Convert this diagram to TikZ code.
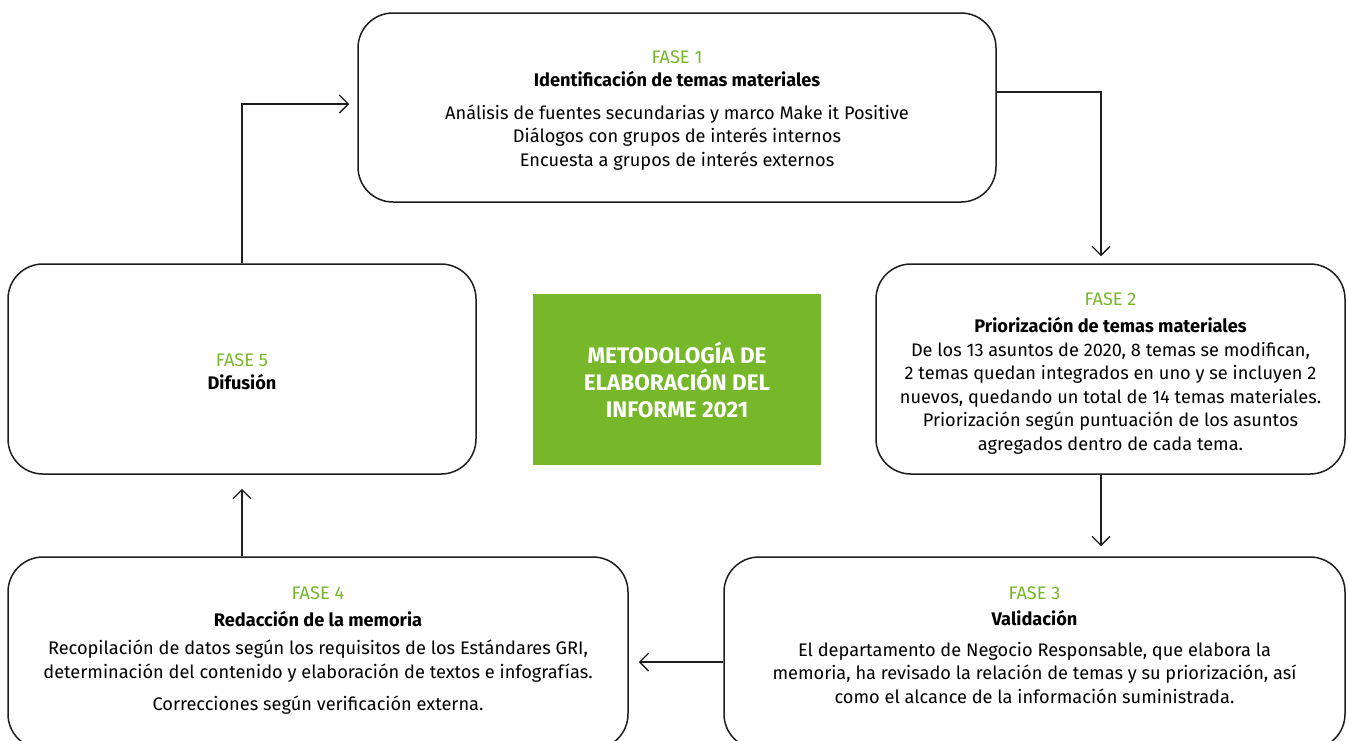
\documentclass[tikz,border=0pt]{standalone}
\usepackage{fontspec}
\setmainfont{Fira Sans}
\usetikzlibrary{arrows.meta,calc}
\definecolor{fgreen}{RGB}{118,184,42}
\definecolor{edge}{RGB}{30,30,30}
\begin{document}
\begin{tikzpicture}[x=1pt,y=-1pt,
  phase/.style={draw=edge,line width=1.5pt,rounded corners=35pt,inner sep=0pt},
  txt/.style={align=center,inner sep=0pt,font=\fontsize{18.2}{23.5}\selectfont,text=black},
  conn/.style={draw=edge,line width=1.3pt,-{Straight Barb[length=9pt,width=18pt,line width=1.3pt]}},
  title/.style={fill=fgreen,inner sep=0pt,align=center,text=white,
    font=\fontsize{22.5}{27}\selectfont\bfseries}]
\useasboundingbox (0,0) rectangle (1348,740);
\clip (0,0) rectangle (1348,740);
\fill[white] (0,0) rectangle (1348,740);

\node[phase,minimum width=638pt,minimum height=189pt] (b1) at (677,107.5) {};
\node[txt] (t1) at (677,110.5)
  {\textcolor{fgreen}{FASE 1}\\
   \textbf{Identificación de temas materiales}\\[9pt]
   Análisis de fuentes secundarias y marco Make it Positive\\
   Diálogos con grupos de interés internos\\
   Encuesta a grupos de interés externos};

\node[phase,minimum width=469pt,minimum height=210pt] (b2) at (1110.5,369) {};
\node[txt] (t2) at (1110.5,373.5)
  {\textcolor{fgreen}{FASE 2}\\[4pt]
   \textbf{Priorización de temas materiales}\\
   De los 13 asuntos de 2020, 8 temas se modifican,\\
   2 temas quedan integrados en uno y se incluyen 2\\
   nuevos, quedando un total de 14 temas materiales.\\
   Priorización según puntuación de los asuntos\\
   agregados dentro de cada tema.};

\node[phase,minimum width=468pt,minimum height=210pt] (b5) at (242,369) {};
\node[txt] (t5) at (242,372)
  {\textcolor{fgreen}{FASE 5}\\
   \textbf{Difusión}};

\node[phase,minimum width=620pt,minimum height=192pt] (b4) at (318,653) {};
\node[txt] (t4) at (318,651)
  {\textcolor{fgreen}{FASE 4}\\[3pt]
   \textbf{Redacción de la memoria}\\[5pt]
   Recopilación de datos según los requisitos de los Estándares GRI,\\
   determinación del contenido y elaboración de textos e infografías.\\[9pt]
   Correcciones según verificación externa.};

\node[phase,minimum width=621pt,minimum height=192pt] (b3) at (1034.5,653) {};
\node[txt] (t3) at (1034.5,645)
  {\textcolor{fgreen}{FASE 3}\\[3pt]
   \textbf{Validación}\\[7pt]
   El departamento de Negocio Responsable, que elabora la\\
   memoria, ha revisado la relación de temas y su priorización, así\\
   como el alcance de la información suministrada.};

\node[title,minimum width=288pt,minimum height=171pt] (c) at (677,379.5)
  {METODOLOGÍA DE\\ELABORACIÓN DEL\\INFORME 2021};

\draw[conn,shorten >=8pt] (b5.north) |- ([yshift=3.5pt]b1.west);
\draw[conn,shorten >=7pt] ([yshift=15.5pt]b1.east) -| ([xshift=-9.5pt]b2.north);
\draw[conn,shorten >=10pt] ([xshift=-9.5pt]b2.south) -- ([xshift=-9.5pt]b2.south |- b3.north);
\draw[conn,shorten >=10pt] ([yshift=-9pt]b3.west) -- ([yshift=-9pt]b3.west -| b4.east);
\draw[conn,shorten >=14pt] (b5.south |- b4.north) -- (b5.south);
\end{tikzpicture}
\end{document}
